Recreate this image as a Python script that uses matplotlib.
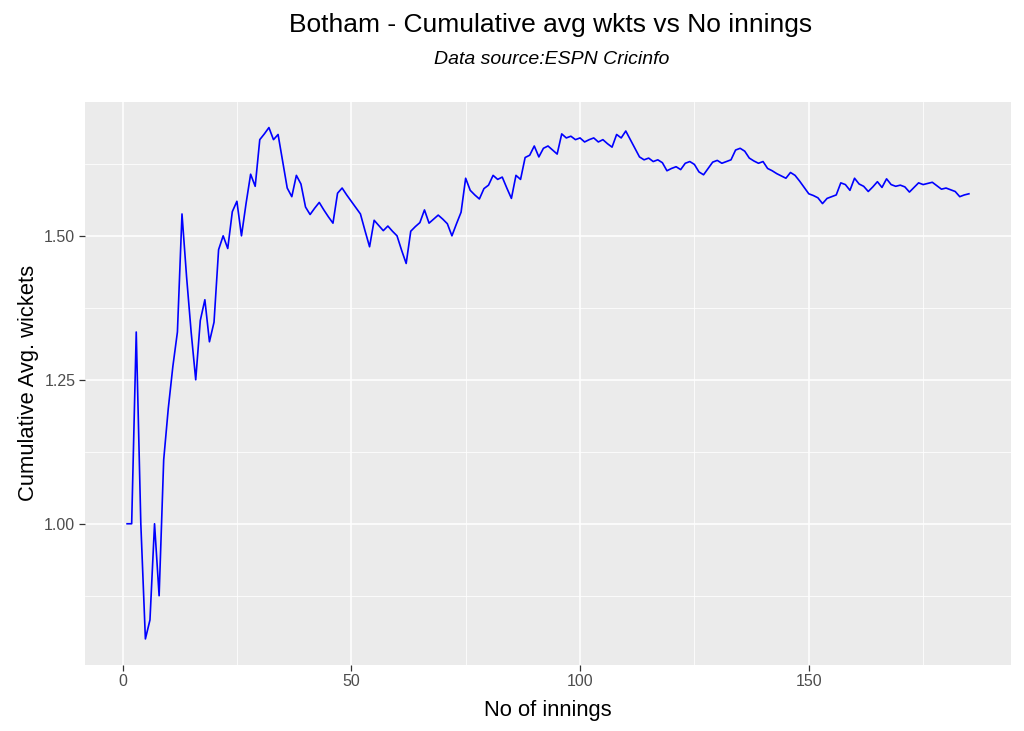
import matplotlib.pyplot as plt
from matplotlib.ticker import MultipleLocator

plt.rcParams['font.family'] = ['Liberation Sans', 'DejaVu Sans']

# Cumulative average wickets per innings (innings 1..185)
innings = list(range(1, 186))
cum_avg_wkts = [
    1.000, 1.000, 1.333, 1.000, 0.800, 0.833, 1.000, 0.875, 1.111, 1.200,
    1.273, 1.333, 1.538, 1.429, 1.333, 1.250, 1.353, 1.389, 1.316, 1.350,
    1.476, 1.500, 1.478, 1.542, 1.560, 1.500, 1.556, 1.607, 1.586, 1.667,
    1.677, 1.688, 1.667, 1.676, 1.629, 1.583, 1.568, 1.605, 1.590, 1.550,
    1.537, 1.548, 1.558, 1.545, 1.533, 1.522, 1.574, 1.583, 1.571, 1.560,
    1.549, 1.538, 1.509, 1.481, 1.527, 1.518, 1.509, 1.517, 1.508, 1.500,
    1.475, 1.452, 1.508, 1.516, 1.523, 1.545, 1.522, 1.529, 1.536, 1.529,
    1.521, 1.500, 1.521, 1.541, 1.600, 1.579, 1.571, 1.564, 1.582, 1.588,
    1.605, 1.598, 1.602, 1.583, 1.565, 1.605, 1.598, 1.636, 1.640, 1.656,
    1.637, 1.652, 1.656, 1.649, 1.642, 1.677, 1.670, 1.673, 1.667, 1.670,
    1.663, 1.667, 1.670, 1.663, 1.667, 1.660, 1.654, 1.676, 1.670, 1.682,
    1.667, 1.652, 1.637, 1.632, 1.635, 1.629, 1.632, 1.627, 1.613, 1.617,
    1.620, 1.615, 1.626, 1.629, 1.624, 1.611, 1.606, 1.617, 1.628, 1.631,
    1.626, 1.629, 1.632, 1.649, 1.652, 1.647, 1.635, 1.630, 1.626, 1.629,
    1.617, 1.613, 1.608, 1.604, 1.600, 1.610, 1.605, 1.595, 1.584, 1.573,
    1.570, 1.566, 1.556, 1.565, 1.568, 1.571, 1.592, 1.589, 1.579, 1.600,
    1.590, 1.586, 1.577, 1.585, 1.594, 1.584, 1.599, 1.589, 1.586, 1.588,
    1.585, 1.576, 1.584, 1.592, 1.589, 1.591, 1.593, 1.587, 1.581, 1.583,
    1.580, 1.577, 1.568, 1.571, 1.573,
]

title = "Botham - Cumulative avg wkts vs No innings"
subtitle = "Data source:ESPN Cricinfo"

fig = plt.figure(figsize=(10.24, 7.31), dpi=100)
ax = fig.add_axes([85 / 1024, 1 - 664.5 / 731, (1011 - 85) / 1024, (664.5 - 102) / 731])

ax.plot(innings, cum_avg_wkts, color='blue', lw=1.2)

# ggplot-like 5% expansion
xr = max(innings) - min(innings)
yr = max(cum_avg_wkts) - min(cum_avg_wkts)
ax.set_xlim(min(innings) - 0.05 * xr, max(innings) + 0.05 * xr)
ax.set_ylim(min(cum_avg_wkts) - 0.05 * yr, max(cum_avg_wkts) + 0.05 * yr)

ax.set_facecolor('#EBEBEB')
for s in ax.spines.values():
    s.set_visible(False)
ax.xaxis.set_major_locator(MultipleLocator(50))
ax.xaxis.set_minor_locator(MultipleLocator(25))
ax.yaxis.set_major_locator(MultipleLocator(0.25))
ax.yaxis.set_minor_locator(MultipleLocator(0.125))
ax.yaxis.set_major_formatter(plt.FormatStrFormatter('%.2f'))
ax.grid(which='major', color='white', lw=1.1)
ax.grid(which='minor', color='white', lw=0.55)
ax.set_axisbelow(True)
ax.tick_params(which='major', length=4, color='#333333', width=0.9,
               labelcolor='#4D4D4D', labelsize=11.5, pad=3)
ax.tick_params(which='minor', length=0)

ax.set_xlabel("No of innings", fontsize=15.8, labelpad=8)
ax.set_ylabel("Cumulative Avg. wickets", fontsize=15.8, labelpad=4)

fig.text(551 / 1024, 1 - 25 / 731, title, ha='center', va='center', fontsize=19)
fig.text(552 / 1024, 1 - 60 / 731, subtitle, ha='center', va='center',
         fontsize=14, style='italic')

fig.savefig("out.png", dpi=100)
